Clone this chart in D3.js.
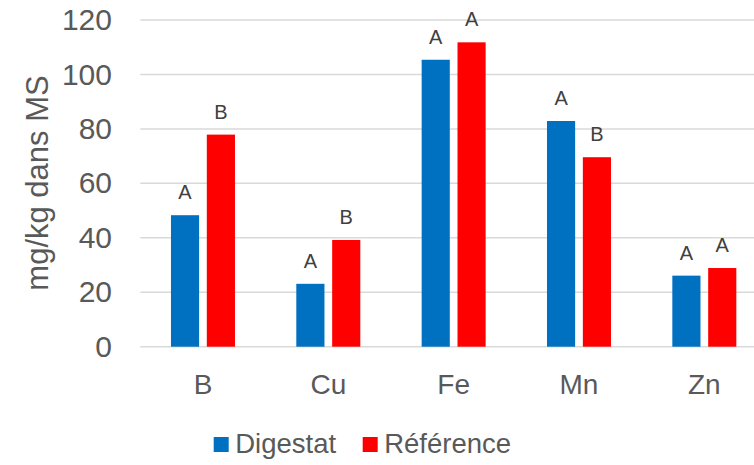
<!DOCTYPE html>
<html>
<head>
<meta charset="utf-8">
<script src="https://cdn.jsdelivr.net/npm/d3@7"></script>
<style>
  html, body { margin: 0; padding: 0; background: #fff; }
  svg { display: block; font-family: "Liberation Sans", Arial, sans-serif; }
</style>
</head>
<body>
<svg id="chart" width="754" height="465"></svg>
<script>
// Trace elements, mg/kg of dry matter
const elements = ["B", "Cu", "Fe", "Mn", "Zn"];
const seriesNames = ["Digestat", "Référence"];
const digestat = [48.3, 23.1, 105.4, 82.9, 26.1];
const reference = [77.9, 39.2, 111.8, 69.6, 28.9];
const digestatLetters = ["A", "A", "A", "A", "A"];
const referenceLetters = ["B", "B", "A", "B", "A"];
const yTicks = [0, 20, 40, 60, 80, 100, 120];
const colors = ["#0070C0", "#FF0000"];

const svg = d3.select("#chart");
const plotLeft = 140.3, plotRight = 767, plotTop = 20, plotBottom = 346.7;

const y = d3.scaleLinear().domain([0, 120]).range([plotBottom, plotTop]);
const x0 = d3.scaleBand().domain(elements).range([plotLeft, plotRight]).padding(0);
const groupWidth = 64;
const x1 = d3.scaleBand().domain(seriesNames)
  .range([x0.bandwidth() / 2 - groupWidth / 2, x0.bandwidth() / 2 + groupWidth / 2])
  .paddingInner(0.215).paddingOuter(0);

// Gridlines
svg.append("g").selectAll("line").data(yTicks).join("line")
  .attr("x1", plotLeft).attr("x2", 754)
  .attr("y1", d => y(d)).attr("y2", d => y(d))
  .attr("stroke", "#d9d9d9").attr("stroke-width", 1.5);

// Y axis tick labels
const yAxis = d3.axisLeft(y).tickValues(yTicks).tickSize(0).tickPadding(0);
const yg = svg.append("g").attr("transform", "translate(112,0)").call(yAxis);
yg.select(".domain").remove();
yg.selectAll("text").attr("font-size", 30).attr("fill", "#595959")
  .attr("font-family", "'Liberation Sans', Arial, sans-serif");

// Y axis title
svg.append("text")
  .attr("transform", "translate(47.5,183) rotate(-90)")
  .attr("text-anchor", "middle")
  .attr("font-size", 31).attr("fill", "#595959")
  .text("mg/kg dans MS");

// Bars
const rows = elements.map((e, i) => ({
  element: e,
  values: [
    { name: seriesNames[0], value: digestat[i], letter: digestatLetters[i] },
    { name: seriesNames[1], value: reference[i], letter: referenceLetters[i] }
  ]
}));

const groups = svg.append("g").selectAll("g").data(rows).join("g")
  .attr("transform", d => `translate(${x0(d.element)},0)`);

groups.selectAll("rect").data(d => d.values).join("rect")
  .attr("x", d => x1(d.name))
  .attr("width", x1.bandwidth())
  .attr("y", d => y(d.value))
  .attr("height", d => y(0) - y(d.value))
  .attr("fill", (d, i) => colors[i]);

// Significance letters
groups.selectAll("text").data(d => d.values).join("text")
  .attr("x", d => x1(d.name) + x1.bandwidth() / 2)
  .attr("y", d => y(d.value) - 16)
  .attr("text-anchor", "middle")
  .attr("font-size", 20).attr("fill", "#404040")
  .text(d => d.letter);

// X axis labels
const xAxis = d3.axisBottom(x0).tickSize(0).tickPadding(0);
const xg = svg.append("g").attr("transform", "translate(0,394)").call(xAxis);
xg.select(".domain").remove();
xg.selectAll("text").attr("font-size", 28).attr("fill", "#595959")
  .attr("dy", 0)
  .attr("font-family", "'Liberation Sans', Arial, sans-serif");

// Legend
const legendX = [213.7, 362.7];
const legend = svg.append("g").selectAll("g").data(seriesNames).join("g")
  .attr("transform", (d, i) => `translate(${legendX[i]},0)`);
legend.append("rect").attr("x", 0).attr("y", 437).attr("width", 15).attr("height", 15)
  .attr("fill", (d, i) => colors[i]);
legend.append("text").attr("x", 21.5).attr("y", 453)
  .attr("font-size", 27.5).attr("fill", "#595959")
  .text(d => d);
</script>
</body>
</html>
